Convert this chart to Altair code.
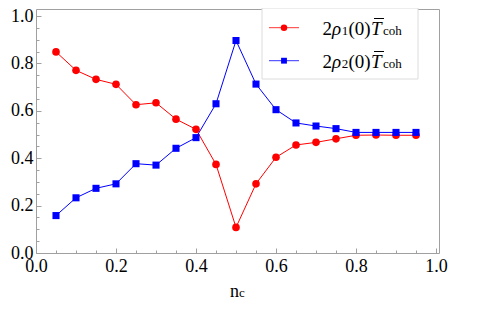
import altair as alt
import pandas as pd

# ---- data ----
nc = [0.05, 0.10, 0.15, 0.20, 0.25, 0.30, 0.35, 0.40, 0.45, 0.50,
      0.55, 0.60, 0.65, 0.70, 0.75, 0.80, 0.85, 0.90, 0.95]
rho1 = [0.849, 0.771, 0.733, 0.712, 0.626, 0.634, 0.565, 0.522, 0.374, 0.108,
        0.292, 0.404, 0.456, 0.467, 0.482, 0.497, 0.498, 0.497, 0.497]
rho2 = [0.158, 0.233, 0.273, 0.292, 0.377, 0.371, 0.442, 0.487, 0.630, 0.897,
        0.713, 0.605, 0.549, 0.536, 0.525, 0.509, 0.509, 0.509, 0.509]
series_names = ["rho1", "rho2"]
series_colors = ["#ff0000", "#0000ff"]
series_shapes = ["circle", "square"]
tick_values = [round(i * 0.05, 2) for i in range(21)]

df = pd.DataFrame({
    "x": nc + nc,
    "y": rho1 + rho2,
    "s": ["rho1"] * len(nc) + ["rho2"] * len(nc),
})

W, H = 403, 244
GRAY = "#a0a0a0"
FONT = "Liberation Serif"
IS_MAJOR = "abs(datum.value*5 - round(datum.value*5)) < 0.001"

xscale = alt.Scale(domain=[0, 1.0075], nice=False, zero=False)
yscale = alt.Scale(domain=[0, 1.03], nice=False, zero=False)
cscale = alt.Scale(domain=series_names, range=series_colors)
sscale = alt.Scale(domain=series_names, range=series_shapes)


def make_axis(orient, pad):
    return alt.Axis(
        orient=orient, values=tick_values, domain=False, grid=False, title=None,
        labelExpr=IS_MAJOR + " ? format(datum.value, '.1f') : ''",
        labelOverlap=False, labelFlush=False,
        labelFont=FONT, labelFontSize=18, labelColor="black", labelPadding=pad,
        tickColor=GRAY, tickWidth=1,
        tickSize={"condition": {"test": IS_MAJOR, "value": -5}, "value": -3},
    )


base = alt.Chart(df)
color = alt.Color("s:N", scale=cscale, legend=None)
X = alt.X("x:Q", scale=xscale, axis=make_axis("bottom", 9))
Y = alt.Y("y:Q", scale=yscale, axis=make_axis("left", 8))

lines = base.mark_line(strokeWidth=1).encode(x=X, y=Y, color=color, detail="s:N")
pts_red = base.transform_filter(alt.datum.s == "rho1").mark_point(
    filled=True, opacity=1, size=58, strokeWidth=0).encode(
    x=X, y=Y, color=color, shape=alt.Shape("s:N", scale=sscale, legend=None))
pts_blue = base.transform_filter(alt.datum.s == "rho2").mark_point(
    filled=True, opacity=1, size=50, strokeWidth=0).encode(
    x=X, y=Y, color=color, shape=alt.Shape("s:N", scale=sscale, legend=None))

one = pd.DataFrame({"k": [0]})


def txt(t, x, y, size, italic=False):
    return alt.Chart(one).mark_text(
        text=t, font=FONT, fontSize=size, align="left", baseline="alphabetic",
        color="black", fontStyle="italic" if italic else "normal",
    ).encode(x=alt.value(x), y=alt.value(y))


layers = [lines, pts_red, pts_blue]

# legend box
layers.append(alt.Chart(one).mark_rect(fill="white", stroke="#dcdcdc", strokeWidth=1).encode(
    x=alt.value(226), x2=alt.value(382), y=alt.value(-1), y2=alt.value(70)))

for i, (name, col, shp) in enumerate(zip(series_names, series_colors, series_shapes)):
    cy = 18.7 + 33 * i
    base_y = 25.5 + 33 * i
    layers.append(alt.Chart(one).mark_rule(color=col, strokeWidth=1, opacity=0.8).encode(
        x=alt.value(233), x2=alt.value(263), y=alt.value(cy)))
    layers.append(alt.Chart(one).mark_point(filled=True, opacity=1, shape=shp, color=col,
                                            size=42 if shp == "circle" else 34, strokeWidth=0).encode(
        x=alt.value(248), y=alt.value(cy)))
    layers.append(txt("2", 286.5, base_y, 19))
    layers.append(txt("ρ", 296, base_y, 19, italic=True))
    layers.append(txt(str(i + 1), 305.8, base_y, 13))
    layers.append(txt("(0)", 312.5, base_y, 19))
    layers.append(txt("T", 335, base_y, 19, italic=True))
    layers.append(alt.Chart(one).mark_rule(color="black", strokeWidth=1).encode(
        x=alt.value(338), x2=alt.value(348), y=alt.value(base_y - 16)))
    layers.append(txt("coh", 347, base_y, 13))

# x-axis title n_c
layers.append(txt("n", 194, 287.5, 18))
layers.append(txt("c", 203, 287.5, 13))

chart = alt.layer(*layers).properties(
    width=W, height=H,
    padding={"left": 28, "top": 1, "right": 40, "bottom": 50},
    autosize=alt.AutoSizeParams(type="none"),
).configure_view(stroke=GRAY, strokeWidth=1)

chart.save("out.html", embed_options={"renderer": "svg", "actions": False})
